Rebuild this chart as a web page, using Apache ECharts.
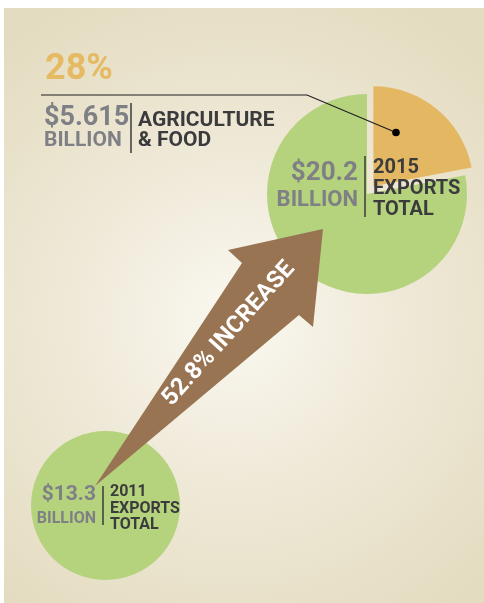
<!DOCTYPE html>
<html>
<head>
<meta charset="utf-8">
<script src="https://cdn.jsdelivr.net/npm/echarts@6/dist/echarts.min.js"></script>
<style>
html,body{margin:0;padding:0;background:#ffffff;}
#chart{width:484px;height:603px;}
</style>
</head>
<body>
<div id="chart"></div>
<script>
// ---- data ----
const yearLabels = ['2011', '2015'];
const exportTotals = [13.3, 20.2];          // $ billion, total exports
const agriValue = 5.615;                     // $ billion, agriculture & food (2015)
const agriShareLabel = '28%';
const increaseLabel = '52.8% INCREASE';
const sliceNames = ['AGRICULTURE & FOOD', 'OTHER EXPORTS'];
const sliceShares = [22, 78];               // slice sizes as drawn in the picture

// ---- styling ----
const GREEN = '#B5D27D', ORANGE = '#E4B863', BROWN = '#987452';
const GREY = '#7F8085', DARK = '#3B3B3D', GOLD = '#E5BA62';
const FONT = 'Roboto, "DejaVu Sans", sans-serif';

function txt(text, x, y, size, color, align, extra) {
  return Object.assign({
    type: 'text', x: x, y: y, z: 100,
    style: {
      text: text, font: 'bold ' + size + 'px ' + FONT, fill: color,
      align: align, verticalAlign: 'middle',
      textAlign: align, textVerticalAlign: 'middle'
    }
  }, extra || {});
}
function vline(x, y1, y2) {
  return { type: 'line', z: 100, shape: { x1: x, y1: y1, x2: x, y2: y2 },
           style: { stroke: DARK, lineWidth: 1.5 } };
}

// arrow geometry (tail point, tip, head and shaft joins)
const arrowPts = [[95, 486], [242, 263], [228, 250], [323, 229], [313, 327], [299, 315]];

const chart = echarts.init(document.getElementById('chart'), null, { renderer: 'canvas' });
chart.setOption({
  animation: false,
  backgroundColor: '#ffffff',
  graphic: { elements: [
    { type: 'rect', z: -100, shape: { x: 4, y: 8, width: 480, height: 595 },
      style: { fill: new echarts.graphic.RadialGradient(235, 320, 360, [
        { offset: 0, color: '#FAF8F1' },
        { offset: 0.45, color: '#EFE9D8' },
        { offset: 1, color: '#E4DCC0' }
      ], true) } },
    // arrow
    { type: 'polygon', z: 90, shape: { points: arrowPts }, style: { fill: BROWN } },
    txt(increaseLabel, 229, 334, 24, '#FFFFFF', 'center', { rotation: 48 * Math.PI / 180, z: 101 }),
    // top-left callout
    txt(agriShareLabel, 45, 70, 36, GOLD, 'left'),
    { type: 'polyline', z: 100, shape: { points: [[41, 95], [307, 95], [396, 132.5]] },
      style: { stroke: '#1E1E1E', lineWidth: 1.2, fill: null } },
    { type: 'circle', z: 100, shape: { cx: 396, cy: 132.5, r: 3.8 }, style: { fill: '#000000' } },
    txt('$' + agriValue.toFixed(3), 44, 118, 27, GREY, 'left'),
    txt('BILLION', 44, 140.5, 21, GREY, 'left'),
    vline(131, 103, 153),
    txt('AGRICULTURE', 138, 120.5, 21, DARK, 'left'),
    txt('& FOOD', 138, 140.5, 21, DARK, 'left'),
    // 2015 label
    txt('$' + exportTotals[1].toFixed(1), 358, 173, 26, GREY, 'right'),
    txt('BILLION', 358, 200.5, 22, GREY, 'right'),
    vline(365, 156, 217),
    txt(yearLabels[1], 373, 168, 20, DARK, 'left'),
    txt('EXPORTS', 373, 189, 20, DARK, 'left'),
    txt('TOTAL', 373, 210, 20, DARK, 'left'),
    // 2011 label
    txt('$' + exportTotals[0].toFixed(1), 96, 495, 21, GREY, 'right'),
    txt('BILLION', 96, 518.5, 16, GREY, 'right'),
    vline(103, 486, 525),
    txt(yearLabels[0], 110, 491.5, 16, DARK, 'left'),
    txt('EXPORTS', 110, 508.5, 16, DARK, 'left'),
    txt('TOTAL', 110, 525, 16, DARK, 'left')
  ] },
  series: [
    {
      type: 'pie', name: yearLabels[0], z: 2,
      center: [105.5, 505.5], radius: 74.5,
      label: { show: false }, labelLine: { show: false },
      emphasis: { disabled: true, scale: false },
      itemStyle: { borderWidth: 0 },
      data: [{ name: yearLabels[0] + ' EXPORTS TOTAL', value: exportTotals[0], itemStyle: { color: GREEN } }]
    },
    {
      type: 'pie', name: yearLabels[1], z: 2,
      center: [367, 194], radius: 100, startAngle: 90, clockwise: true,
      selectedMode: 'single', selectedOffset: 10,
      label: { show: false }, labelLine: { show: false },
      emphasis: { disabled: true, scale: false },
      itemStyle: { borderWidth: 0 },
      data: [
        { name: sliceNames[0], value: sliceShares[0], selected: true, itemStyle: { color: ORANGE } },
        { name: sliceNames[1], value: sliceShares[1], itemStyle: { color: GREEN } }
      ]
    }
  ]
});
</script>
</body>
</html>
